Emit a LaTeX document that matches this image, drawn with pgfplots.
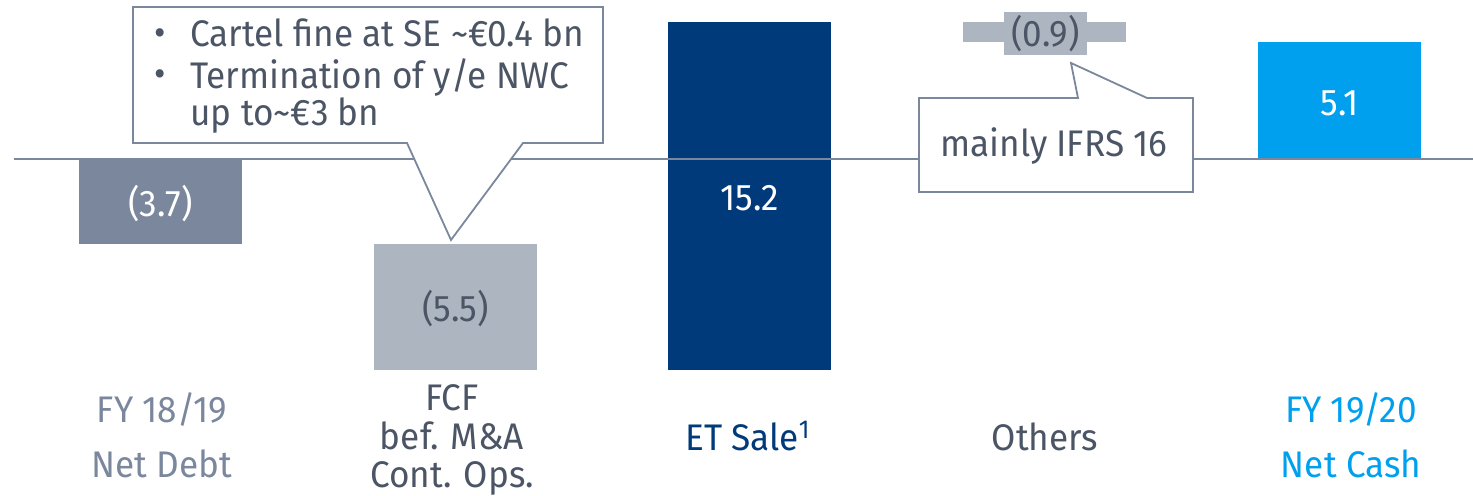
\documentclass[border=0pt]{standalone}
\usepackage{pgfplots}
\pgfplotsset{compat=1.18}
\usepackage{fontspec}
\setmainfont{Fira Sans}[FakeStretch=0.95]
\definecolor{slate}{HTML}{7A879C}
\definecolor{lgray}{HTML}{ADB5C0}
\definecolor{navy}{HTML}{003A7A}
\definecolor{sky}{HTML}{00A0EE}
\definecolor{dtext}{HTML}{4B5565}
\begin{document}
\begin{tikzpicture}[font=\fontsize{18.5}{22}\selectfont]
\begin{axis}[name=ax, at={(0,0)}, anchor=south west, scale only axis,
  width=736.5pt, height=248pt,
  xmin=-0.5446, xmax=4.4537, ymin=-14.716, ymax=6.943,
  hide axis, clip=false, ybar stacked, stack negative=on previous, bar width=0.5531]
\draw[slate, line width=1pt] (axis cs:-0.4971,0) -- (axis cs:4.4537,0);
% invisible offsets (bar bases)
\addplot[draw=none, fill=none] coordinates {(0,-3.7) (1,-9.2) (2,-9.2) (3,5.1) (4,0)};
\addplot[draw=none, fill=slate] coordinates {(0,3.7) (1,0) (2,0) (3,0) (4,0)};
\addplot[draw=none, fill=lgray] coordinates {(0,0) (1,5.5) (2,0) (3,0) (4,0)};
\addplot[draw=none, fill=navy] coordinates {(0,0) (1,0) (2,15.2) (3,0) (4,0)};
\addplot[draw=none, fill=lgray] coordinates {(0,0) (1,0) (2,0) (3,0.9) (4,0)};
\addplot[draw=none, fill=sky] coordinates {(0,0) (1,0) (2,0) (3,0) (4,5.1)};
\end{axis}
\begin{scope}[x=0.5pt, y=-0.5pt, shift={(0,248pt)}]
% callout 1
\draw[slate, line width=0.9pt, fill=white, line join=miter] (133,7) -- (603,7) -- (603,143) -- (523,143) -- (451,240) -- (407,143) -- (133,143) -- cycle;
\node[dtext] at (160,37) {\textbullet};
\node[dtext] at (160,78) {\textbullet};
\node[dtext, anchor=base west, inner sep=0] at (190,47) {Cartel fine at SE \textasciitilde€0.4 bn};
\node[dtext, anchor=base west, inner sep=0] at (190,89) {Termination of y/e NWC};
\node[dtext, anchor=base west, inner sep=0] at (190,126) {up to\textasciitilde€3 bn};
% callout 2
\draw[slate, line width=0.9pt, fill=white, line join=miter] (919,98) -- (1078,98) -- (1071,63) -- (1147,98) -- (1193,98) -- (1193,192) -- (919,192) -- cycle;
\node[dtext, anchor=base, inner sep=0] at (1054,157) {mainly IFRS 16};
% bar values
\node[white] at (160.5,204) {(3.7)};
\node[dtext] at (455.5,309) {(5.5)};
\node[white] at (750,198) {15.2};
\node[fill=lgray, text=dtext, minimum width=41.5pt, minimum height=21.5pt, inner sep=0] at (1045.5,33.5) {(0.9)};
\node[white] at (1339.5,103) {5.1};
% category labels
\node[slate, anchor=base, inner sep=0] at (162,423) {FY 18/19};
\node[slate, anchor=base, inner sep=0] at (162,478) {Net Debt};
\node[dtext, anchor=base, inner sep=0] at (452,411) {FCF};
\node[dtext, anchor=base, inner sep=0] at (452,450) {bef. M\&A};
\node[dtext, anchor=base, inner sep=0] at (452,488) {Cont. Ops.};
\node[navy, anchor=base, inner sep=0] at (748,451) {ET Sale\textsuperscript{1}};
\node[dtext, anchor=base, inner sep=0] at (1045,451) {Others};
\node[sky, anchor=base, inner sep=0] at (1351,423) {FY 19/20};
\node[sky, anchor=base, inner sep=0] at (1351,478) {Net Cash};
\end{scope}
\pgfresetboundingbox
\path (0,0) rectangle (736.5pt,248pt);
\end{tikzpicture}
\end{document}
